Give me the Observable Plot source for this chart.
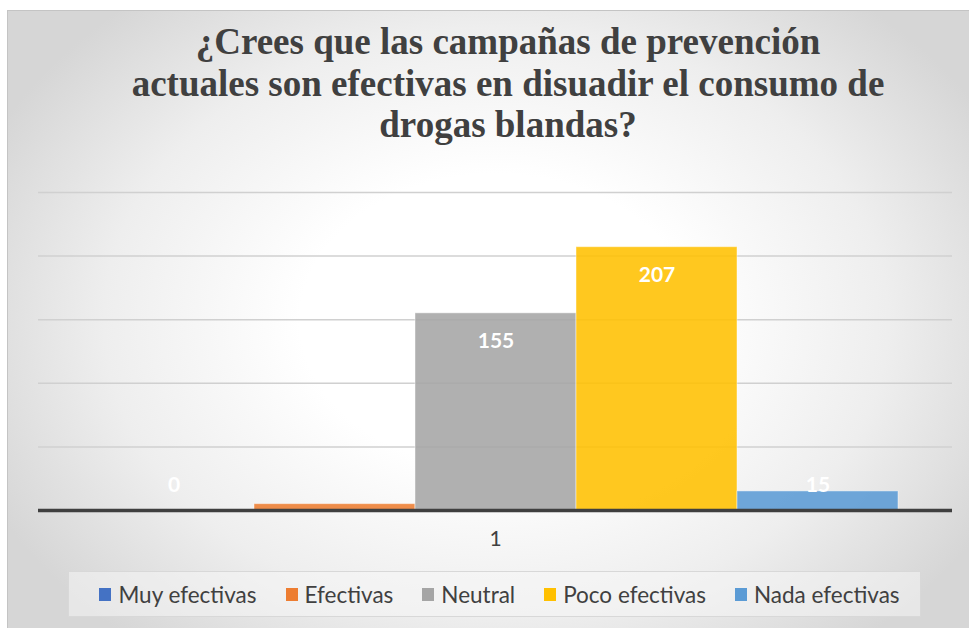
<!DOCTYPE html>
<html>
<head>
<meta charset="utf-8">
<script src="https://cdn.jsdelivr.net/npm/d3@7"></script>
<script src="https://cdn.jsdelivr.net/npm/@observablehq/plot@0.6"></script>
<style>
  html, body { margin: 0; padding: 0; background: #ffffff; }
  #root { position: relative; width: 969px; height: 628px; overflow: hidden; background: #ffffff; }
  #frame { position: absolute; left: 7px; top: 10px; width: 975px; height: 630px;
    background: radial-gradient(ellipse 560px 420px at 488px 310px, #ffffff 0%, #ffffff 35%, #eeeeee 70%, #d6d6d6 100%);
    border: 1px solid #c4c4c4; box-sizing: border-box; }
  #title { position: absolute; left: 58px; width: 900px; top: 21px; text-align: center;
    font-family: "Liberation Serif", "Times New Roman", Times, serif; font-weight: bold; font-size: 37px; line-height: 41.5px;
    color: #404040; white-space: nowrap; }
  #chart { position: absolute; left: 0; top: 0; }
  #legend { position: absolute; left: 68px; top: 571px; width: 853px; height: 46px;
    background: rgba(245,245,245,0.55); border: 1px solid #d8d8d8; box-sizing: border-box;
    display: flex; align-items: center; justify-content: center; gap: 29px; padding-left: 10px;
    font-family: Lato, sans-serif; font-size: 22.5px; color: #404040; }
  .item { display: flex; align-items: center; gap: 7px; }
  .sw { width: 12px; height: 13px; display: inline-block; }
</style>
</head>
<body>
<div id="root">
  <div id="frame"></div>
  <div id="title">¿Crees que las campañas de prevención<br>actuales son efectivas en disuadir el consumo de<br>drogas blandas?</div>
  <div id="chart"></div>
  <div id="legend"></div>
</div>
<script>
const categories = ["Muy efectivas", "Efectivas", "Neutral", "Poco efectivas", "Nada efectivas"];
const values = [0, 5, 155, 207, 15];
const colors = ["#4472C4", "#ED7D31", "#A5A5A5", "#FFC000", "#5B9BD5"];
const gridTicks = [50, 100, 150, 200, 250];
const groupLabel = ["1"];

const data = categories.map((c, i) => ({cat: c, value: values[i]}));
// labels shown in the reference (the "Efectivas" label is not visible there)
const shownLabels = ["Muy efectivas", "Neutral", "Poco efectivas", "Nada efectivas"];
const labelData = data.filter(d => shownLabels.includes(d.cat));

const chart = Plot.plot({
  width: 969,
  height: 628,
  marginTop: 192,
  marginBottom: 118,
  marginLeft: 38,
  marginRight: 17,
  style: {background: "transparent", overflow: "visible"},
  x: {domain: categories, paddingInner: 0, paddingOuter: 0.321, axis: null},
  y: {domain: [0, 250], axis: null},
  color: {domain: categories, range: colors},
  marks: [
    Plot.ruleY(gridTicks, {stroke: "#d0d0d0", strokeWidth: 1.5}),
    Plot.barY(data, {x: "cat", y: "value", fill: "cat", fillOpacity: 0.88, stroke: "#ffffff", strokeOpacity: 0.45, strokeWidth: 1}),
    Plot.ruleY([0], {stroke: "#3f3f3f", strokeWidth: 3.5}),
    Plot.text(labelData, {filter: d => d.value > 100, x: "cat", y: "value", text: d => String(d.value), dy: 28,
      fill: "#ffffff", fontWeight: "bold", fontSize: 21, fontFamily: "Lato"}),
    Plot.text(labelData, {filter: d => d.value === 0, x: "cat", y: "value", text: d => String(d.value), dy: -25,
      fill: "#ffffff", fontWeight: "bold", fontSize: 21, fontFamily: "Lato"}),
    Plot.text(labelData, {filter: d => d.value > 0 && d.value <= 100, x: "cat", y: "value", text: d => String(d.value), dy: -6,
      fill: "#ffffff", fontWeight: "bold", fontSize: 21, fontFamily: "Lato"}),
    Plot.text(groupLabel, {text: d => d, frameAnchor: "bottom", dy: 35, fill: "#404040", fontSize: 21, fontFamily: "Lato"})
  ]
});
document.getElementById("chart").appendChild(chart);

const legend = document.getElementById("legend");
categories.forEach((c, i) => {
  const it = document.createElement("div");
  it.className = "item";
  const sw = document.createElement("span");
  sw.className = "sw";
  sw.style.background = colors[i];
  const t = document.createElement("span");
  t.textContent = c;
  it.appendChild(sw); it.appendChild(t);
  legend.appendChild(it);
});
</script>
</body>
</html>
